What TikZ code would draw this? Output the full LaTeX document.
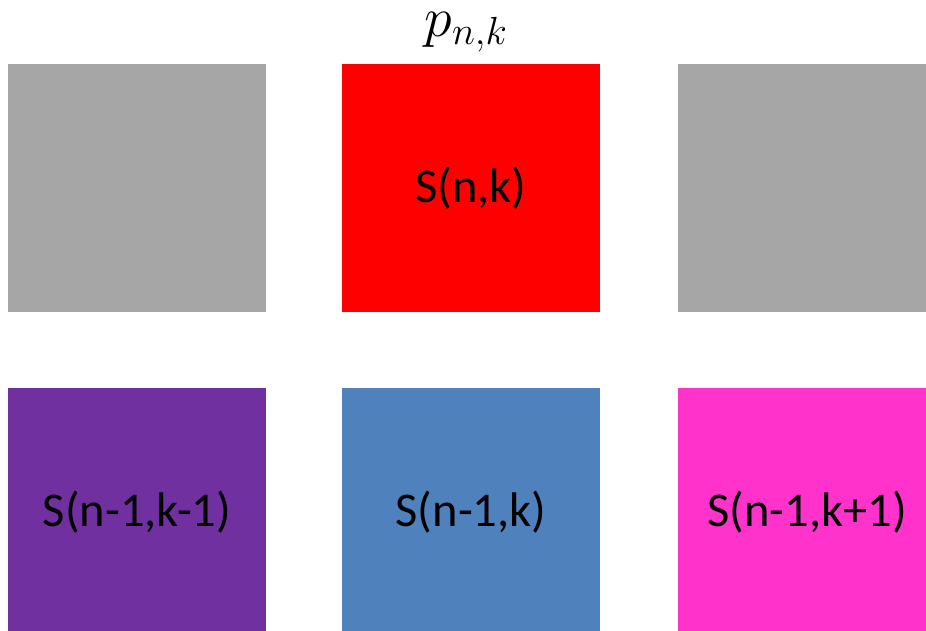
\RequirePackage{fix-cm}
\documentclass[tikz,border=0pt]{standalone}
\usepackage{fontspec}
\setmainfont{Carlito}
\definecolor{boxgray}{HTML}{A6A6A6}
\definecolor{boxred}{HTML}{FF0000}
\definecolor{boxpurple}{HTML}{7030A0}
\definecolor{boxblue}{HTML}{4F81BD}
\definecolor{boxpink}{HTML}{FF33CC}
\begin{document}
\begin{tikzpicture}[x=1pt,y=-1pt,
  cell/.style={rectangle,inner sep=0pt,minimum width=258pt,minimum height=248pt,
    font=\fontsize{48.5}{54}\selectfont, text=black},
  lbl/.style={inner sep=0pt,font=\fontsize{56}{62}\selectfont}]
\useasboundingbox (0,0) rectangle (926,630);
\clip (0,0) rectangle (926,630);
\fill[white] (0,0) rectangle (926,630);
\node[cell,fill=boxgray] (tl) at (137,188) {};
\node[cell,fill=boxred] (tc) at (471,188) {S(n,k)};
\node[cell,fill=boxgray] (tr) at (807,188) {};
\node[cell,fill=boxpurple] (bl) at (137,512) {S(n-1,k-1)};
\node[cell,fill=boxblue] (bc) at (471,512) {S(n-1,k)};
\node[cell,fill=boxpink] (br) at (807,512) {S(n-1,k+1)};
\node[lbl,anchor=base] (p) at (466,36) {$p_{n,k}$};
\end{tikzpicture}
\end{document}
